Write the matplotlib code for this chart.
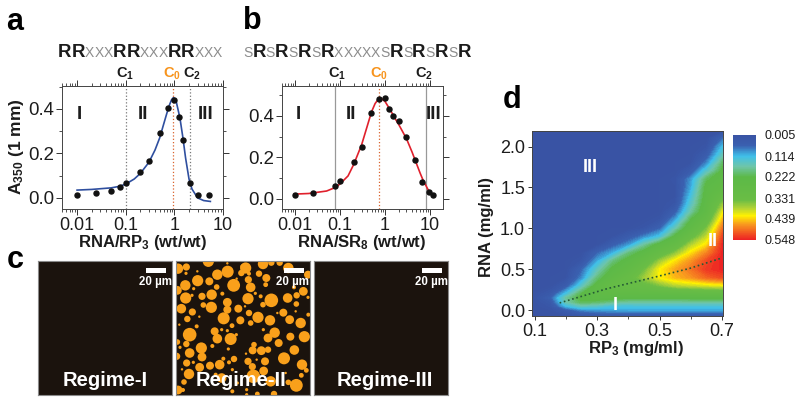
#!/usr/bin/env python
"""Turbidity curves, regime micrographs and RP3/RNA phase map."""
import matplotlib

matplotlib.use("Agg")
import matplotlib.pyplot as plt
import numpy as np
from matplotlib.cm import ScalarMappable
from matplotlib.colors import LinearSegmentedColormap, Normalize
from matplotlib.patches import Circle, Rectangle
from matplotlib.ticker import FixedLocator, FuncFormatter, LogLocator, NullFormatter

plt.rcParams["font.family"] = ["Liberation Sans", "DejaVu Sans"]
plt.rcParams["mathtext.fontset"] = "custom"
plt.rcParams["mathtext.rm"] = "Liberation Sans"
plt.rcParams["mathtext.bf"] = "Liberation Sans:bold"
plt.rcParams["mathtext.default"] = "regular"

W, H = 800, 403
TEXT = "#1c1c1c"
ORANGE = "#f7941d"

# panel a
a_pts_x = [0.01, 0.025, 0.05, 0.075, 0.1, 0.2, 0.3, 0.5, 0.75, 1.0, 1.27, 1.53, 2.05, 3.0, 5.2]
a_pts_y = [0.015, 0.022, 0.033, 0.048, 0.066, 0.117, 0.165, 0.29, 0.405, 0.44, 0.365, 0.26, 0.066, 0.012, 0.012]
a_fit_x = [0.01, 0.02, 0.05, 0.075, 0.1, 0.15, 0.2, 0.3, 0.4, 0.5, 0.6, 0.7, 0.8, 0.88, 0.95, 1.0, 1.1, 1.3, 1.5, 1.7, 2.0, 2.3, 3.0, 4.0, 5.5]
a_fit_y = [0.035, 0.038, 0.045, 0.052, 0.062, 0.085, 0.11, 0.16, 0.215, 0.27, 0.33, 0.38, 0.42, 0.442, 0.45, 0.448, 0.43, 0.36, 0.27, 0.18, 0.085, 0.04, 0.0, -0.012, -0.016]
a_c1, a_c0, a_c2 = 0.1, 0.93, 2.1

# panel b
b_pts_x = [0.01, 0.025, 0.075, 0.097, 0.2, 0.3, 0.49, 0.74, 1.0, 1.25, 1.47, 2.0, 2.88, 4.7, 6.8, 9.7, 11.7]
b_pts_y = [0.018, 0.027, 0.063, 0.084, 0.176, 0.25, 0.416, 0.484, 0.487, 0.434, 0.40, 0.374, 0.297, 0.187, 0.079, 0.034, 0.019]
b_fit_x = [0.0095, 0.02, 0.05, 0.08, 0.1, 0.15, 0.2, 0.3, 0.4, 0.5, 0.6, 0.7, 0.8, 1.0, 1.3, 1.7, 2.0, 3.0, 4.0, 5.0, 6.0, 7.0, 9.0, 12.0]
b_fit_y = [0.022, 0.025, 0.037, 0.055, 0.072, 0.11, 0.165, 0.26, 0.35, 0.42, 0.46, 0.48, 0.487, 0.47, 0.43, 0.385, 0.36, 0.29, 0.225, 0.17, 0.125, 0.09, 0.045, 0.012]
b_c1, b_c0, b_c2 = 0.075, 0.72, 8.0

# panel c, droplets of Regime-II as x, y, r per quadrant of the frame
q1 = [(12,32,13),(37,27,9),(103,10,14),(130,50,13),(161,41,15),(202,45,8),(36,46,4),(71,68,14),(106,70,10),(128,87,7),(179,82,16),(34,82,13),(10,97,11),(59,92,4),(145,107,5),(113,110,13),(84,115,9),(35,120,14),(54,112,4),(160,133,11),(88,141,7),(112,148,14),(22,152,12),(160,155,10),(193,152,10),(55,162,9),(76,176,3),(40,183,8),(149,181,15),(199,187,10),(16,200,3),(68,205,5),(174,203,6),(27,5,3),(160,16,3),(188,62,3),(205,25,5),(70,40,3)]
q2 = [(5,30,14),(57,18,13),(82,14,8),(107,14,8),(133,30,13),(15,47,5),(45,47,8),(67,60,10),(13,65,9),(20,88,12),(65,80,6),(192,50,10),(178,100,11),(158,112,8),(150,88,5),(12,122,14),(34,106,4),(50,115,5),(82,127,17),(131,120,12),(157,138,7),(57,140,7),(192,118,4),(3,145,3),(15,165,8),(118,164,10),(42,178,14),(78,187,13),(20,195,7),(137,185,11),(170,195,13),(193,170,5),(100,165,3),(155,160,3)]
q3 = [(47,20,17),(122,10,10),(130,32,12),(170,33,15),(160,8,4),(143,5,4),(187,20,4),(10,42,7),(37,48,8),(82,60,14),(18,58,4),(47,75,12),(115,54,5),(163,63,4),(8,85,9),(84,87,11),(38,105,9),(58,103,4),(148,92,5),(180,93,8),(137,110,12),(165,103,5),(108,113,10),(77,118,11),(45,138,13),(24,124,3),(143,150,12),(30,162,7),(175,125,4),(12,186,11),(27,186,5),(190,165,4),(175,190,5),(125,140,5)]
q4 = [(92,14,13),(72,30,11),(139,26,10),(181,26,14),(104,45,10),(30,50,7),(151,66,12),(52,68,11),(72,65,8),(26,67,10),(6,77,3),(120,91,15),(12,100,9),(63,100,10),(174,110,13),(25,116,9),(187,127,6),(59,129,11),(172,142,6),(28,145,17),(80,160,13),(133,163,7),(157,172,16),(125,135,3),(38,95,3),(8,185,4),(90,198,8),(40,198,6),(8,200,4),(58,5,4)]

# panel d
rp3 = [0.09, 0.15, 0.2, 0.25, 0.3, 0.35, 0.4, 0.45, 0.5, 0.55, 0.6, 0.65, 0.705]
rna = [-0.07, 0.0, 0.05, 0.1, 0.15, 0.2, 0.3, 0.4, 0.5, 0.6, 0.7, 0.8, 0.9, 1.0, 1.1, 1.2, 1.3, 1.4, 1.5, 1.6, 1.7, 1.8, 1.9, 2.0, 2.1, 2.2]
absorb = [
    [.005, .005, .01, .02, .03, .03, .03, .03, .03, .03, .03, .03, .03],
    [.005, .01, .04, .08, .09, .095, .10, .10, .10, .10, .10, .10, .10],
    [.005, .02, .11, .15, .14, .12, .12, .125, .125, .125, .125, .125, .125],
    [.005, .03, .16, .21, .20, .18, .17, .17, .17, .17, .17, .17, .17],
    [.005, .05, .17, .235, .24, .23, .22, .22, .22, .22, .225, .225, .225],
    [.005, .03, .12, .22, .25, .26, .26, .26, .26, .265, .27, .275, .28],
    [.005, .005, .04, .14, .24, .30, .31, .32, .35, .38, .39, .40, .41],
    [.005, .005, .01, .08, .19, .26, .31, .37, .42, .45, .47, .50, .52],
    [.005, .005, .005, .06, .15, .23, .27, .34, .42, .46, .49, .53, .545],
    [.005, .005, .005, .02, .10, .19, .24, .29, .37, .43, .47, .52, .548],
    [.005, .005, .005, .005, .06, .105, .19, .24, .30, .36, .43, .48, .548],
    [.005, .005, .005, .005, .005, .05, .09, .17, .24, .29, .38, .43, .548],
    [.005, .005, .005, .005, .005, .01, .04, .08, .12, .23, .32, .39, .53],
    [.005, .005, .005, .005, .005, .005, .005, .02, .06, .16, .26, .35, .50],
    [.005, .005, .005, .005, .005, .005, .005, .005, .02, .10, .22, .30, .46],
    [.005, .005, .005, .005, .005, .005, .005, .005, .005, .05, .17, .26, .42],
    [.005, .005, .005, .005, .005, .005, .005, .005, .005, .02, .14, .25, .37],
    [.005, .005, .005, .005, .005, .005, .005, .005, .005, .01, .12, .24, .31],
    [.005, .005, .005, .005, .005, .005, .005, .005, .005, .01, .10, .235, .27],
    [.005, .005, .005, .005, .005, .005, .005, .005, .005, .015, .09, .21, .25],
    [.005, .005, .005, .005, .005, .005, .005, .005, .005, .005, .04, .14, .235],
    [.005, .005, .005, .005, .005, .005, .005, .005, .005, .005, .01, .08, .21],
    [.005, .005, .005, .005, .005, .005, .005, .005, .005, .005, .005, .04, .16],
    [.005, .005, .005, .005, .005, .005, .005, .005, .005, .005, .005, .015, .12],
    [.005, .005, .005, .005, .005, .005, .005, .005, .005, .005, .005, .005, .07],
    [.005, .005, .005, .005, .005, .005, .005, .005, .005, .005, .005, .005, .005],
]
guide_x = [0.18, 0.333, 0.49, 0.595, 0.7]
guide_y = [0.09, 0.265, 0.41, 0.51, 0.64]
cbar_ticks = [0.005, 0.114, 0.222, 0.331, 0.439, 0.548]
cmap_stops = [(0, "#3953a4"), (.1, "#3a60b0"), (.2, "#3fc0ea"), (.3, "#6fc5a8"), (.4, "#5cb947"),
              (.62, "#6abd45"), (.7, "#b5d334"), (.77, "#fff200"), (.85, "#f89b1f"), (1, "#ed2024")]

fig = plt.figure(figsize=(W / 100, H / 100), dpi=100)


def px_axes(x0, y0, x1, y1):
    return fig.add_axes([x0 / W, 1 - y1 / H, (x1 - x0) / W, (y1 - y0) / H])


def label(x, y, s, size=13, color=TEXT, weight="bold", **kw):
    kw.setdefault("ha", "center")
    kw.setdefault("va", "center")
    return fig.text(x / W, 1 - y / H, s, fontsize=size, color=color, fontweight=weight, **kw)


def sequence(x, y, s):
    # capitals R are the bold black residues, the rest are thin grey spacers
    renderer = fig.canvas.get_renderer()
    for ch in s:
        if ch == "R":
            t = label(x, y, ch, size=13.4, ha="left", va="baseline")
        else:
            t = label(x, y, ch.upper(), size=10, color="#8c8c8c", weight="normal", ha="left", va="baseline")
        x += t.get_window_extent(renderer).width


def curve_panel(box, xlim, ylim, pts, fit, fit_color, lines):
    ax = px_axes(*box)
    ax.set_xscale("log")
    ax.set_xlim(*xlim)
    ax.set_ylim(*ylim)
    for xc, col, ls in lines:
        ax.axvline(xc, color=col, lw=0.9, ls=ls, zorder=1)
    ax.plot(fit[0], fit[1], color=fit_color, lw=1.2, zorder=2)
    ax.plot(pts[0], pts[1], "o", color="#111111", ms=3.6, zorder=3)
    ax.xaxis.set_major_locator(FixedLocator([0.01, 0.1, 1, 10]))
    ax.xaxis.set_major_formatter(FuncFormatter(lambda v, _: f"{v:g}"))
    ax.xaxis.set_minor_locator(LogLocator(base=10, subs=np.arange(2, 10), numticks=12))
    ax.xaxis.set_minor_formatter(NullFormatter())
    ax.set_yticks([0.0, 0.2, 0.4], ["0.0", "0.2", "0.4"])
    ax.set_yticks([0.1, 0.3, 0.5], minor=True)
    ax.tick_params(which="major", length=4, width=0.7, labelsize=13.4, pad=1.5, color="#333333", labelcolor=TEXT)
    ax.tick_params(axis="x", which="major", labelsize=13)
    ax.tick_params(which="minor", length=2, width=0.6, color="#333333")
    ax.tick_params(which="both", top=True, right=True)
    for side in ax.spines.values():
        side.set_linewidth(0.7)
        side.set_color("#444444")
    return ax


curve_panel((62, 86, 223, 209), (0.0049, 10), (-0.05, 0.503), (a_pts_x, a_pts_y), (a_fit_x, a_fit_y), "#2f4f9f",
            [(a_c1, "#777777", ":"), (a_c0, "#d9622b", ":"), (a_c2, "#777777", ":")])
curve_panel((281.7, 86, 443, 209), (0.005, 19.5), (-0.05, 0.545), (b_pts_x, b_pts_y), (b_fit_x, b_fit_y), "#e0202c",
            [(b_c1, "#999999", "-"), (b_c0, "#d9622b", ":"), (b_c2, "#999999", "-")])

# regime frames
frames = [(38, "Regime-I", 67), (176, "Regime-II", 65), (314, "Regime-III", 71)]
for left, name, name_x in frames:
    ax = px_axes(left, 261, left + 134, 395)
    ax.set_xlim(0, 134)
    ax.set_ylim(134, 0)
    ax.set_xticks([])
    ax.set_yticks([])
    ax.set_facecolor("#1b130d")
    for side in ax.spines.values():
        side.set_linewidth(0.8)
        side.set_color("#8a8a8a")
    if name == "Regime-II":
        for quad, dx, dy in ((q1, -2, -3), (q2, 68, -3), (q3, -2, 67), (q4, 68, 67)):
            for cx, cy, r in quad:
                ax.add_patch(Circle((cx / 3 + dx, cy / 3 + dy), r / 3 * 1.2, fc="#f9a01b", ec="none", zorder=2))
    ax.add_patch(Rectangle((108, 7), 20, 5, fc="white", ec="none", zorder=3))
    ax.text(117, 21, "20 µm", color="white", fontsize=8.3, fontweight="bold", ha="center", va="center", zorder=4)
    ax.text(name_x, 120, name, color="white", fontsize=14.5, fontweight="bold", ha="center", va="center", zorder=4)

# phase map
cmap = LinearSegmentedColormap.from_list("regimes", cmap_stops)
norm = Normalize(0.005, 0.548)
ax_d = px_axes(532, 131, 723, 316)
ax_d.contourf(rp3, rna, np.array(absorb), levels=np.linspace(0.005, 0.548, 80), cmap=cmap, norm=norm,
              extend="both", antialiased=False)
ax_d.plot(guide_x, guide_y, color="#245a35", lw=1.2, ls=(0, (1, 1.6)))
ax_d.set_xlim(0.0915, 0.703)
ax_d.set_ylim(-0.07, 2.19)
ax_d.set_xticks([0.1, 0.3, 0.5, 0.7], ["0.1", "0.3", "0.5", "0.7"])
ax_d.set_xticks([0.2, 0.4, 0.6], minor=True)
ax_d.set_yticks([0.0, 0.5, 1.0, 1.5, 2.0], ["0.0", "0.5", "1.0", "1.5", "2.0"])
ax_d.tick_params(which="major", length=3, width=0.7, labelsize=13, pad=2, color="#333333", labelcolor=TEXT)
ax_d.tick_params(which="minor", length=2, width=0.6, color="#333333")
for side in ax_d.spines.values():
    side.set_linewidth(0.7)
    side.set_color("#444444")

cax = px_axes(732.7, 135, 755.7, 240)
cbar = fig.colorbar(ScalarMappable(norm=norm, cmap=cmap), cax=cax, ticks=cbar_ticks)
cax.invert_yaxis()
cbar.outline.set_visible(False)
cbar.ax.set_yticklabels([f"{v:.3f}" for v in cbar_ticks])
cax.tick_params(length=0, labelsize=9, pad=6, labelcolor=TEXT)

# panel letters
label(15, 22, "a", size=22, color="black")
label(252, 21, "b", size=22, color="black")
label(15, 260, "c", size=22, color="black")
label(512, 100, "d", size=22, color="black")

sequence(58, 57, "RRxxxRRxxxRRxxx")
sequence(243, 57, "sRsRsRsRxxxxxsRsRsRsR")

for x, s, col in [(125, r"C$_{\mathbf{1}}$", TEXT), (172, r"C$_{\mathbf{0}}$", ORANGE), (192, r"C$_{\mathbf{2}}$", TEXT),
                  (337, r"C$_{\mathbf{1}}$", TEXT), (379, r"C$_{\mathbf{0}}$", ORANGE), (424, r"C$_{\mathbf{2}}$", TEXT)]:
    label(x, 74, s, size=10.5, color=col)

for x, s in [(79, "I"), (143, "II"), (206, "III"), (298, "I"), (351, "II"), (434, "III")]:
    label(x, 115, s, size=13.5)

label(17, 147, r"A$_{\mathbf{350}}$ (1 mm)", size=12.5, rotation=90)
label(143, 243, r"RNA/RP$_{\mathbf{3}}$ (wt/wt)", size=12)
label(362, 243, r"RNA/SR$_{\mathbf{8}}$ (wt/wt)", size=12)
label(636, 348, r"RP$_{\mathbf{3}}$ (mg/ml)", size=12)
label(487, 227, "RNA (mg/ml)", size=12, rotation=90)

label(590, 167, "III", size=13, color="white")
label(713, 241, "II", size=13, color="white")
label(615, 305, "I", size=13, color="white")

fig.savefig("out.png", dpi=100)
